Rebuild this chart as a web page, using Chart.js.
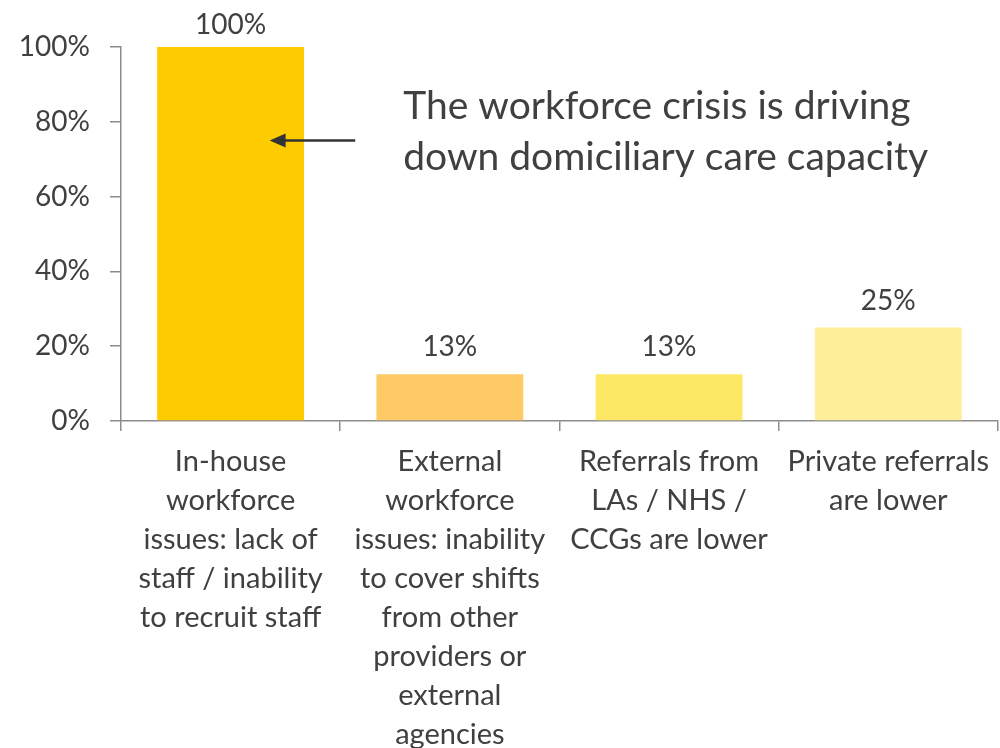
<!DOCTYPE html>
<html>
<head>
<meta charset="utf-8">
<script src="https://cdn.jsdelivr.net/npm/chart.js@4/dist/chart.umd.min.js"></script>
<style>
  html, body { margin: 0; padding: 0; background: #fff; }
  #wrap { width: 1000px; height: 748px; }
</style>
</head>
<body>
<div id="wrap"><canvas id="capacityChart"></canvas></div>
<script>
// --- data ---
const categories = [
    ['In-house', 'workforce', 'issues: lack of', 'staff / inability', 'to recruit staff'],
    ['External', 'workforce', 'issues: inability', 'to cover shifts', 'from other', 'providers or', 'external', 'agencies'],
    ['Referrals from', 'LAs / NHS /', 'CCGs are lower'],
    ['Private referrals', 'are lower']
];
const shares = [100, 12.5, 12.5, 25];
const barColors = ['#FECB00', '#FECA66', '#FDE866', '#FEEE99'];
const yTicks = [0, 20, 40, 60, 80, 100];
const noteLines = ['The workforce crisis is driving', 'down domiciliary care capacity'];

const FONT = 'Lato, "Open Sans", sans-serif';
const TEXT = '#404040';
const AXIS = '#8c8c8c';

// value labels above each bar (kept inside the canvas at the top)
const barLabels = {
    id: 'barLabels',
    afterDatasetsDraw(chart) {
        const ctx = chart.ctx;
        const meta = chart.getDatasetMeta(0);
        ctx.save();
        ctx.font = '28px ' + FONT;
        ctx.fillStyle = TEXT;
        ctx.textAlign = 'center';
        ctx.textBaseline = 'alphabetic';
        meta.data.forEach((bar, i) => {
            const base = Math.max(bar.y - 18, 34);
            ctx.fillText(Math.round(shares[i]) + '%', bar.x, base);
        });
        ctx.restore();
    }
};

// callout text + arrow pointing at the first bar
const callout = {
    id: 'callout',
    afterDraw(chart) {
        const ctx = chart.ctx;
        const x = chart.scales.x, y = chart.scales.y;
        const bar = chart.getDatasetMeta(0).data[0];
        const ay = y.getPixelForValue(75);
        const tipX = bar.x + 39;
        const tailX = x.getPixelForValue(1) - x.width / 8 + 15;
        ctx.save();
        ctx.strokeStyle = '#333';
        ctx.fillStyle = '#333';
        ctx.lineWidth = 2.5;
        ctx.beginPath();
        ctx.moveTo(tailX, ay);
        ctx.lineTo(tipX + 10, ay);
        ctx.stroke();
        ctx.beginPath();
        ctx.moveTo(tipX, ay);
        ctx.lineTo(tipX + 16, ay - 7);
        ctx.lineTo(tipX + 16, ay + 7);
        ctx.closePath();
        ctx.fill();

        ctx.font = '39px ' + FONT;
        ctx.fillStyle = TEXT;
        ctx.textAlign = 'left';
        ctx.textBaseline = 'middle';
        noteLines.forEach((line, i) => {
            ctx.fillText(line, tailX + 48, y.getPixelForValue(84) + i * 51);
        });
        ctx.restore();
    }
};

new Chart(document.getElementById('capacityChart'), {
    type: 'bar',
    data: {
        labels: categories,
        datasets: [{
            data: shares,
            backgroundColor: barColors,
            borderWidth: 0,
            barPercentage: 0.67,
            categoryPercentage: 1
        }]
    },
    options: {
        responsive: true,
        maintainAspectRatio: false,
        animation: false,
        layout: { padding: { top: 47, right: 0, left: 0, bottom: 0 } },
        plugins: { legend: { display: false }, tooltip: { enabled: false } },
        scales: {
            x: {
                afterFit(s) { s.height = 327; },
                border: { color: AXIS, width: 1.5 },
                grid: { drawOnChartArea: false, offset: true, color: AXIS, tickLength: 10, lineWidth: 1.5 },
                ticks: { color: TEXT, font: { family: FONT, size: 29, lineHeight: 1.345 }, padding: 11, maxRotation: 0, autoSkip: false }
            },
            y: {
                min: 0,
                max: 100,
                afterFit(s) { s.width = 121; },
                afterBuildTicks(s) { s.ticks = yTicks.map(v => ({ value: v })); },
                border: { color: AXIS, width: 1.5 },
                grid: { drawOnChartArea: false, color: AXIS, tickLength: 11, lineWidth: 1.5 },
                ticks: { color: TEXT, font: { family: FONT, size: 28 }, padding: 20, callback: v => v + '%' }
            }
        }
    },
    plugins: [barLabels, callout]
});
</script>
</body>
</html>
